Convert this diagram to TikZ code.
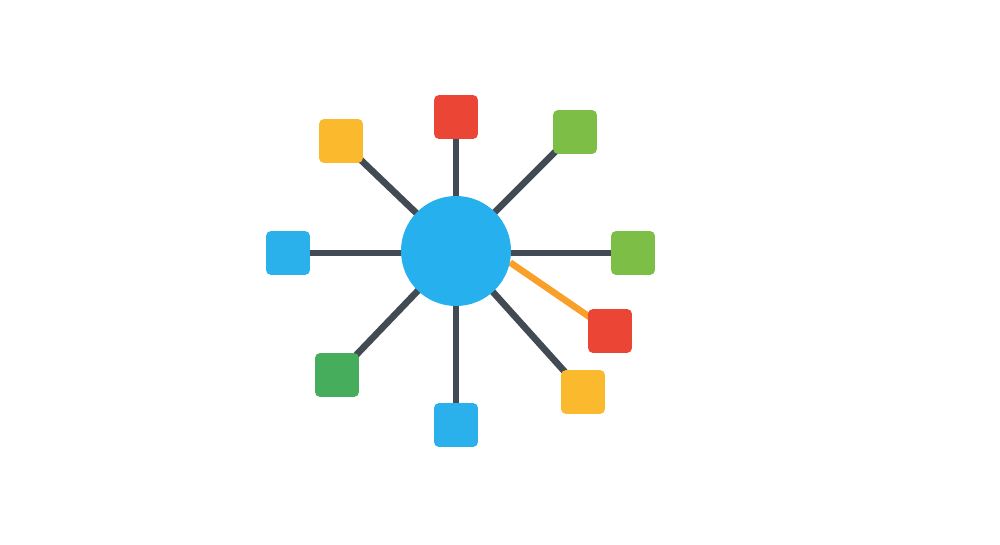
\documentclass[tikz,border=0pt]{standalone}
\usetikzlibrary{backgrounds}
\definecolor{hubblue}{HTML}{27B0EE}
\definecolor{sqblue}{HTML}{2AB1EC}
\definecolor{sqred}{HTML}{EA4535}
\definecolor{sqgreen}{HTML}{7DBF46}
\definecolor{sqdgreen}{HTML}{45AD5B}
\definecolor{sqyellow}{HTML}{FBB92E}
\definecolor{spoke}{HTML}{424B53}
\definecolor{hilite}{HTML}{F8A02A}
\begin{document}
\begin{tikzpicture}[x=0.5pt,y=-0.5pt,
  sq/.style={rectangle,rounded corners=2.2pt,minimum size=21.8pt,inner sep=0pt},
  hub/.style={circle,minimum size=55pt,inner sep=0pt,fill=hubblue},
  link/.style={draw=spoke,line width=3.3pt},
  hot/.style={draw=hilite,line width=3.3pt}]
\useasboundingbox (0,0) rectangle (1000,545);
\node[hub] (c) at (456,251) {};
\node[sq,fill=sqred] (n) at (456,117) {};
\node[sq,fill=sqyellow] (nw) at (341,141) {};
\node[sq,fill=sqgreen] (ne) at (575,132) {};
\node[sq,fill=sqblue] (w) at (288,253) {};
\node[sq,fill=sqgreen] (e) at (633,253) {};
\node[sq,fill=sqred] (ese) at (610,331) {};
\node[sq,fill=sqyellow] (se) at (583,392) {};
\node[sq,fill=sqblue] (s) at (456,425) {};
\node[sq,fill=sqdgreen] (sw) at (337,375) {};
\begin{scope}[on background layer]
  \fill[white] (0,0) rectangle (1000,545);
  \draw[link] (c.center) -- (n.center);
  \draw[link] (c.center) -- (nw.center);
  \draw[link] (c.center) -- (ne.center);
  \draw[link] (c.center |- w.center) -- (w.center);
  \draw[link] (c.center |- e.center) -- (e.center);
  \draw[link] (c.center) -- (se.center);
  \draw[link] (c.center) -- (s.center);
  \draw[link] (c.center) -- (sw.center);
  \draw[hot] (c.-12) -- (ese.center);
\end{scope}
\end{tikzpicture}
\end{document}
